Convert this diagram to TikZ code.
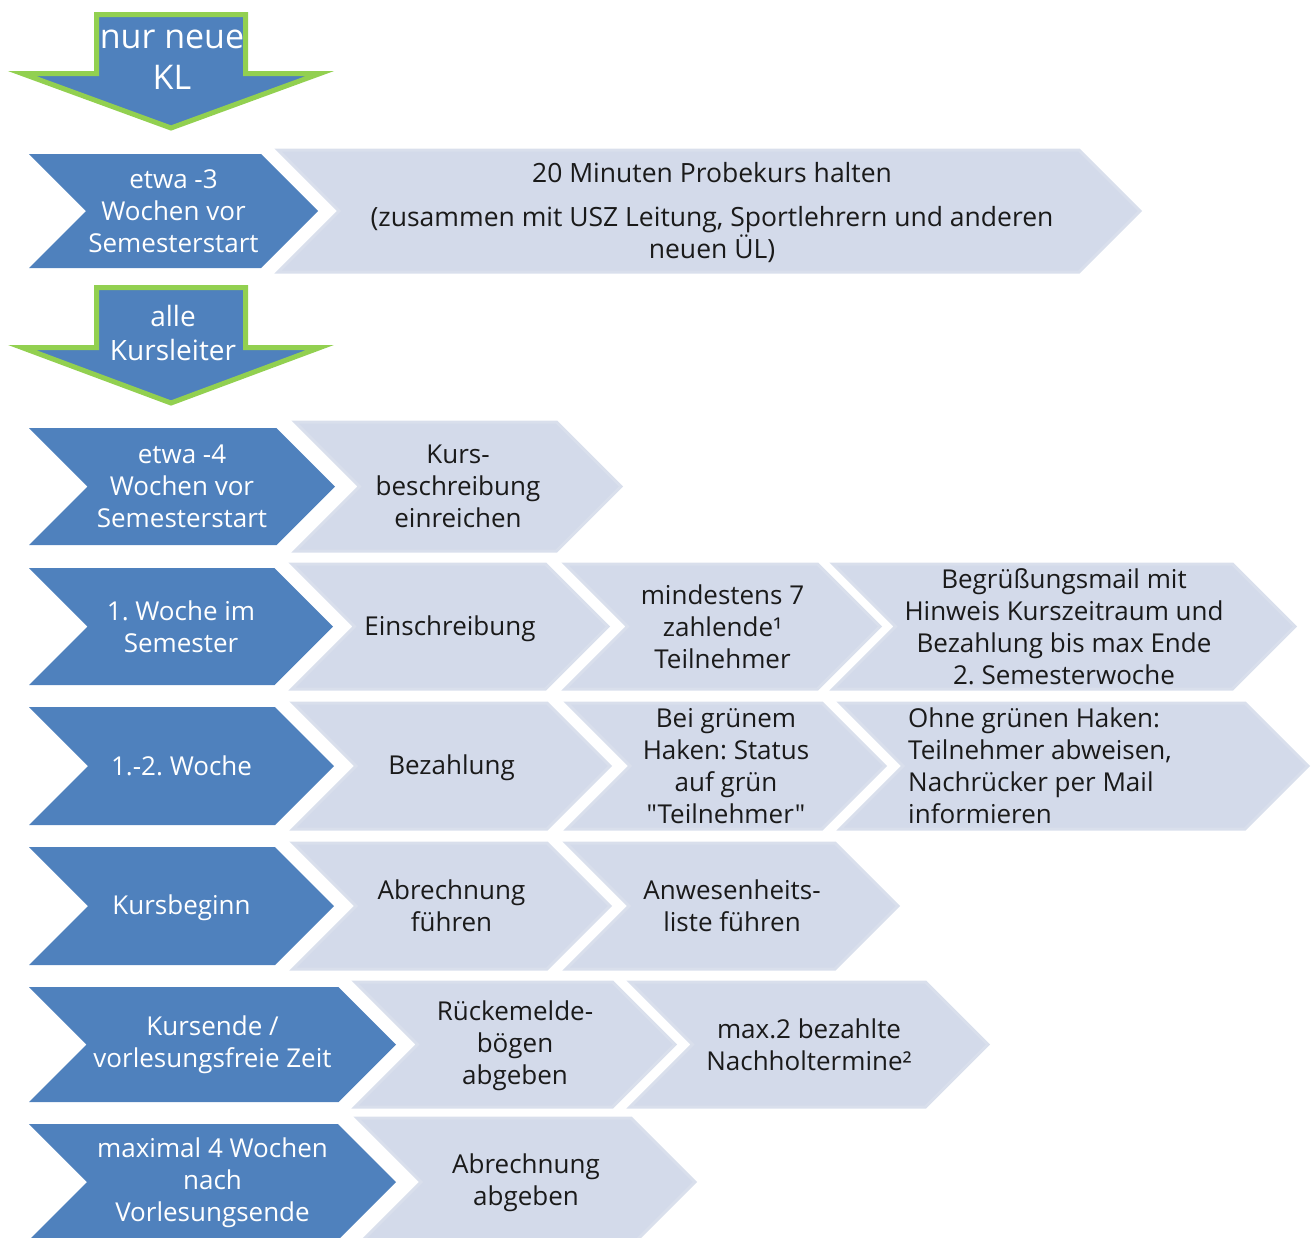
\documentclass[tikz,border=0pt]{standalone}
\usepackage{fontspec}
\setmainfont{Open Sans}
\newfontfamily\plainsans{Open Sans}
\frenchspacing
\definecolor{bluefill}{HTML}{4F81BD}
\definecolor{greenline}{HTML}{92D050}
\definecolor{lightfill}{HTML}{D3DAEA}
\definecolor{lightline}{HTML}{D9DFEC}
\definecolor{darktext}{HTML}{1A1A1A}
\tikzset{
  bluechev/.style={fill=bluefill, draw=none},
  lightchev/.style={fill=lightfill, draw=lightline, line width=3pt, line join=miter},
  btext/.style={text=white, align=center, inner sep=0pt, font=\fontsize{26}{32}\selectfont},
  ltext/.style={text=darktext, align=center, inner sep=0pt, font=\fontsize{26}{32}\selectfont},
  downarrow/.style={fill=bluefill, draw=greenline, line width=5pt, line join=miter, miter limit=10},
}
\newcommand{\chev}[6]{% #1 style, #2 name, #3 left x, #4 tip x, #5 top y, #6 bottom y
  \pgfmathsetmacro{\chvh}{(#6-#5)/2}%
  \pgfmathsetmacro{\chvm}{(#5+#6)/2}%
  \pgfmathsetmacro{\chvc}{#4-\chvh}%
  \pgfmathsetmacro{\chvn}{#3+\chvh}%
  \pgfmathsetmacro{\chvx}{(#3+#4)/2}%
  \path[#1] (#3,#5) -- (\chvc,#5) -- (#4,\chvm) -- (\chvc,#6) -- (#3,#6) -- (\chvn,\chvm) -- cycle;
  \coordinate (#2) at (\chvx,\chvm);
}
\begin{document}
\begin{tikzpicture}[x=1pt,y=-1pt]
\useasboundingbox (0,0) rectangle (1314,1237);
\clip (0,0) rectangle (1314,1237);

% top down arrows
\path[downarrow] (96.5,14.5) -- (245.5,14.5) -- (245.5,73.5) -- (320,73.5) -- (171,128) -- (22,73.5) -- (96.5,73.5) -- cycle;
\node[text=white, align=center, inner sep=0pt, font=\fontsize{34}{41}\selectfont] (a1) at (172,60) {nur neue\\KL};

\path[downarrow] (96.5,287.5) -- (245.5,287.5) -- (245.5,347.5) -- (320,347.5) -- (171,403) -- (22,347.5) -- (96.5,347.5) -- cycle;
\node[text=white, align=center, inner sep=0pt, font=\fontsize{28}{34}\selectfont] (a2) at (173,333) {alle\\Kursleiter};

% row 1
\chev{bluechev}{b1}{29}{318}{154}{268}
\chev{lightchev}{l1}{278}{1140}{150}{272}
\node[btext] (b1t) at (b1) {etwa -3\\Wochen vor\\Semesterstart};
\node[ltext, font=\fontsize{26.5}{32}\selectfont] (l1t) at ([xshift=3pt,yshift=-2pt]l1) {20 Minuten Probekurs halten\\[12pt](zusammen mit USZ Leitung, Sportlehrern und anderen\\neuen ÜL)};

% row 2
\chev{bluechev}{b2}{29}{335}{428}{545}
\chev{lightchev}{l2}{295}{621}{422}{551}
\node[btext] (b2t) at (b2) {etwa -4\\Wochen vor\\Semesterstart};
\node[ltext] (l2t) at (l2) {Kurs-\\beschreibung\\einreichen};

% row 3
\chev{bluechev}{b3}{29}{333}{568}{685}
\chev{lightchev}{l3a}{292}{608}{564}{689}
\chev{lightchev}{l3b}{565}{880}{564}{689}
\chev{lightchev}{l3c}{833}{1295}{564}{689}
\node[btext] (b3t) at (b3) {1. Woche im\\Semester};
\node[ltext] (l3at) at ([yshift=-2pt]l3a) {Einschreibung};
\node[ltext] (l3bt) at (l3b) {mindestens 7\\zahlende¹\\Teilnehmer};
\node[ltext] (l3ct) at (l3c) {Begrüßungsmail mit\\Hinweis Kurszeitraum und\\Bezahlung bis max Ende\\2. Semesterwoche};

% row 4
\chev{bluechev}{b4}{29}{334}{707}{825}
\chev{lightchev}{l4a}{293}{610}{703}{829}
\chev{lightchev}{l4b}{567}{885}{703}{829}
\chev{lightchev}{l4c}{840}{1308}{703}{829}
\node[btext] (b4t) at (b4) {1.-2. Woche};
\node[ltext] (l4at) at ([yshift=-2pt]l4a) {Bezahlung};
\node[ltext] (l4bt) at (l4b) {Bei grünem\\Haken: Status\\auf grün\\{\plainsans"Teilnehmer"}};
\node[ltext, align=left, anchor=west] (l4ct) at (908,766) {Ohne grünen Haken:\\Teilnehmer abweisen,\\Nachrücker per Mail\\informieren};

% row 5
\chev{bluechev}{b5}{29}{334}{847}{965}
\chev{lightchev}{l5a}{293}{610}{843}{969}
\chev{lightchev}{l5b}{566}{898}{843}{969}
\node[btext] (b5t) at ([yshift=-2pt]b5) {Kursbeginn};
\node[ltext] (l5at) at (l5a) {Abrechnung\\führen};
\node[ltext] (l5bt) at (l5b) {Anwesenheits-\\liste führen};

% row 6
\chev{bluechev}{b6}{29}{396}{987}{1102}
\chev{lightchev}{l6a}{355}{675}{982}{1107}
\chev{lightchev}{l6b}{630}{988}{982}{1107}
\node[btext] (b6t) at (b6) {Kursende /\\vorlesungsfreie Zeit};
\node[ltext] (l6at) at ([yshift=-1pt]l6a) {Rückemelde-\\bögen\\abgeben};
\node[ltext] (l6bt) at (l6b) {max.2 bezahlte\\Nachholtermine²};

% row 7
\chev{bluechev}{b7}{29}{396}{1124}{1240}
\chev{lightchev}{l7a}{357}{695}{1118}{1246}
\node[btext] (b7t) at ([yshift=-1pt]b7) {maximal 4 Wochen\\nach\\Vorlesungsende};
\node[ltext] (l7at) at ([yshift=-1pt]l7a) {Abrechnung\\abgeben};
\end{tikzpicture}
\end{document}
